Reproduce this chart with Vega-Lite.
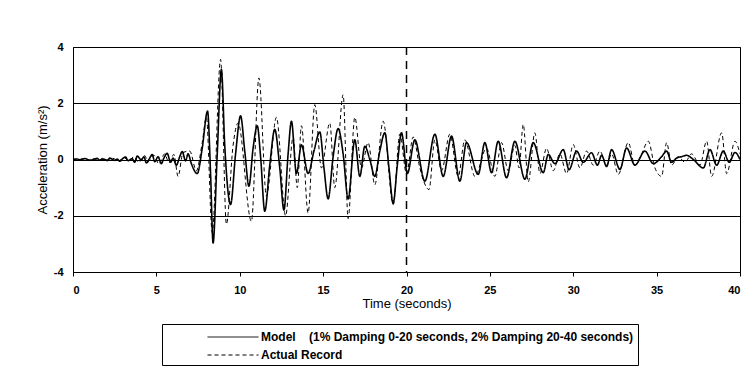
{
  "$schema": "https://vega.github.io/schema/vega-lite/v6.json",
  "autosize": "none",
  "width": 667,
  "height": 225,
  "padding": {"left": 73, "top": 47, "right": 8, "bottom": 102},
  "background": "white",
  "config": {
    "view": {"stroke": "black", "strokeWidth": 1},
    "font": "Liberation Sans",
    "axis": {
      "labelFont": "Liberation Sans",
      "labelFontWeight": "bold",
      "labelFontSize": 11,
      "labelColor": "black",
      "titleFont": "Liberation Sans",
      "titleFontWeight": "normal",
      "titleFontSize": 13,
      "titleColor": "black",
      "domainColor": "black",
      "tickColor": "black",
      "gridColor": "black",
      "gridOpacity": 1
    }
  },
  "datasets": {
    "model": [
      {"t":0,"a":0},{"t":0.25,"a":0.02},{"t":0.4,"a":-0.01},{"t":0.7,"a":0.03},{"t":0.85,"a":0.01},{"t":1.0,"a":-0.03},
      {"t":1.3,"a":0.02},{"t":1.45,"a":0.04},{"t":1.6,"a":-0.02},{"t":1.9,"a":0.01},{"t":2.05,"a":-0.04},{"t":2.2,"a":0.05},
      {"t":2.5,"a":-0.03},{"t":2.65,"a":0.02},{"t":2.8,"a":-0.06},{"t":3.0,"a":0.04},{"t":3.15,"a":0.09},{"t":3.3,"a":-0.04},
      {"t":3.55,"a":0.03},{"t":3.7,"a":-0.1},{"t":3.85,"a":0.12},{"t":4.1,"a":-0.02},{"t":4.25,"a":0.1},{"t":4.4,"a":-0.12},
      {"t":4.6,"a":0.05},{"t":4.75,"a":0.18},{"t":4.9,"a":-0.08},{"t":5.1,"a":0.1},{"t":5.3,"a":-0.15},{"t":5.45,"a":0.05},
      {"t":5.65,"a":0.22},{"t":5.85,"a":-0.1},{"t":6.0,"a":0.05},{"t":6.2,"a":-0.2},{"t":6.4,"a":0.1},{"t":6.55,"a":0.28},
      {"t":6.75,"a":-0.05},{"t":6.9,"a":0.2},{"t":7.1,"a":-0.15},{"t":7.45,"a":-0.5},{"t":7.75,"a":0.4},{"t":8.07,"a":1.72},
      {"t":8.25,"a":-0.5},{"t":8.4,"a":-2.97},
      {"t":8.65,"a":0.2},{"t":8.9,"a":3.2},{"t":9.1,"a":0.5},{"t":9.45,"a":-1.6},{"t":9.75,"a":0.2},{"t":10.05,"a":1.55},
      {"t":10.3,"a":0.3},{"t":10.55,"a":-0.95},{"t":10.8,"a":0.4},{"t":11.05,"a":1.2},{"t":11.25,"a":0.1},{"t":11.5,"a":-1.84},
      {"t":11.8,"a":-0.2},{"t":12.1,"a":1.07},{"t":12.4,"a":-0.3},{"t":12.65,"a":-1.8},{"t":12.9,"a":0.2},{"t":13.1,"a":1.36},
      {"t":13.4,"a":-0.5},{"t":13.7,"a":0.52},{"t":14.1,"a":-0.5},{"t":14.45,"a":0.3},{"t":14.8,"a":0.98},{"t":15.05,"a":-0.3},
      {"t":15.3,"a":-1.4},{"t":15.6,"a":0.1},{"t":15.9,"a":1.1},{"t":16.2,"a":0.2},{"t":16.5,"a":-1.4},{"t":16.9,"a":0.7},
      {"t":17.2,"a":-0.6},{"t":17.5,"a":0.47},{"t":17.8,"a":0},{"t":18.1,"a":-0.6},{"t":18.4,"a":0.3},{"t":18.7,"a":0.95},
      {"t":18.95,"a":-0.3},{"t":19.2,"a":-1.56},{"t":19.45,"a":-0.2},{"t":19.7,"a":0.95},{"t":20.05,"a":-0.5},{"t":20.5,"a":0.7},
      {"t":21.1,"a":-0.77},{"t":21.7,"a":0.9},{"t":22.2,"a":-0.6},{"t":22.7,"a":0.83},{"t":23.2,"a":-0.77},{"t":23.6,"a":0.6},
      {"t":24.3,"a":-0.53},{"t":24.7,"a":0.6},{"t":25.1,"a":-0.47},{"t":25.5,"a":0.65},{"t":26.0,"a":-0.65},{"t":26.5,"a":0.65},
      {"t":27.1,"a":-0.7},{"t":27.6,"a":0.6},{"t":28.2,"a":-0.47},{"t":28.5,"a":0.18},{"t":28.9,"a":-0.15},{"t":29.4,"a":0.35},
      {"t":29.75,"a":-0.36},{"t":30.2,"a":0.3},{"t":30.6,"a":-0.1},{"t":31.1,"a":0.24},{"t":31.45,"a":-0.2},{"t":31.7,"a":0.15},
      {"t":32.0,"a":-0.25},{"t":32.3,"a":0.35},{"t":32.8,"a":-0.35},{"t":33.2,"a":0.41},{"t":33.7,"a":-0.2},{"t":34.3,"a":0.3},
      {"t":34.8,"a":-0.15},{"t":35.3,"a":0.1},{"t":35.6,"a":0.3},{"t":35.9,"a":-0.1},{"t":36.2,"a":0.05},{"t":36.5,"a":0.1},
      {"t":36.8,"a":0.15},{"t":37.2,"a":0},{"t":37.8,"a":-0.3},{"t":38.2,"a":0.35},{"t":38.6,"a":-0.2},{"t":39.0,"a":0.3},
      {"t":39.35,"a":-0.1},{"t":39.7,"a":0.25},{"t":40.0,"a":0}
    ],
    "actual": [
      {"t":0,"a":0},{"t":0.35,"a":-0.02},{"t":0.55,"a":0.02},{"t":0.95,"a":-0.02},{"t":1.15,"a":0.03},{"t":1.55,"a":-0.03},
      {"t":1.75,"a":0.04},{"t":2.15,"a":-0.02},{"t":2.35,"a":0.05},{"t":2.75,"a":-0.05},{"t":3.05,"a":0.07},{"t":3.35,"a":-0.06},
      {"t":3.65,"a":0.1},{"t":3.95,"a":-0.1},{"t":4.3,"a":0.14},{"t":4.5,"a":-0.08},{"t":4.85,"a":0.15},{"t":5.15,"a":-0.16},
      {"t":5.5,"a":0.2},{"t":5.75,"a":-0.12},{"t":6.05,"a":0.18},{"t":6.3,"a":-0.6},{"t":6.6,"a":0.25},{"t":7.0,"a":0.3},
      {"t":7.4,"a":-0.4},{"t":7.75,"a":0.6},{"t":8.0,"a":1.5},{"t":8.35,"a":-2.6},{"t":8.85,"a":3.56},{"t":9.2,"a":-2.3},
      {"t":9.6,"a":0.5},{"t":9.9,"a":1.3},{"t":10.7,"a":-2.2},{"t":11.15,"a":2.9},{"t":11.6,"a":-1.3},{"t":12.2,"a":1.5},
      {"t":12.75,"a":-2.0},{"t":13.2,"a":0.8},{"t":13.45,"a":-1.0},{"t":13.7,"a":1.2},{"t":14.1,"a":-1.9},{"t":14.5,"a":1.95},
      {"t":14.9,"a":-0.3},{"t":15.4,"a":1.3},{"t":15.7,"a":-1.0},{"t":16.2,"a":2.3},{"t":16.5,"a":-2.1},{"t":16.9,"a":1.5},
      {"t":17.3,"a":-0.3},{"t":17.7,"a":0.6},{"t":18.1,"a":-0.9},{"t":18.6,"a":1.36},{"t":19.2,"a":-1.6},{"t":19.6,"a":0.9},
      {"t":20.0,"a":-0.5},{"t":20.4,"a":0.8},{"t":20.8,"a":-0.3},{"t":21.35,"a":-1.07},{"t":21.7,"a":0.7},{"t":22.1,"a":-0.4},
      {"t":22.6,"a":0.9},{"t":23.1,"a":-0.6},{"t":23.5,"a":0.7},{"t":24.1,"a":-0.6},{"t":24.8,"a":0.4},{"t":25.3,"a":-0.6},
      {"t":25.7,"a":0.6},{"t":26.1,"a":-0.4},{"t":26.5,"a":0.5},{"t":26.75,"a":-0.3},{"t":27.0,"a":1.25},{"t":27.3,"a":-0.8},
      {"t":27.7,"a":0.95},{"t":28.0,"a":-0.5},{"t":28.4,"a":0.4},{"t":28.8,"a":-0.4},{"t":29.2,"a":0.2},{"t":29.6,"a":-0.5},
      {"t":30.0,"a":0.53},{"t":30.4,"a":-0.3},{"t":30.8,"a":0.3},{"t":31.2,"a":-0.2},{"t":31.6,"a":0.3},{"t":32.0,"a":-0.2},
      {"t":32.3,"a":0.2},{"t":32.7,"a":-0.53},{"t":33.3,"a":0.6},{"t":33.7,"a":-0.2},{"t":34.1,"a":0.2},{"t":34.5,"a":0.65},
      {"t":34.9,"a":-0.3},{"t":35.3,"a":-0.6},{"t":35.6,"a":0.6},{"t":35.9,"a":-0.2},{"t":36.3,"a":0.1},{"t":36.7,"a":-0.1},
      {"t":37.1,"a":0.2},{"t":37.6,"a":-0.2},{"t":38.0,"a":0.65},{"t":38.3,"a":-0.6},{"t":38.9,"a":0.95},{"t":39.2,"a":-0.5},
      {"t":39.7,"a":0.65},{"t":40.0,"a":0.2}
    ],
    "marker": [{"t": 20}]
  },
  "encoding": {
    "x": {
      "field": "t", "type": "quantitative",
      "scale": {"domain": [0, 40], "nice": false, "zero": false},
      "axis": {"values": [0,5,10,15,20,25,30,35,40], "title": "Time (seconds)", "grid": false, "tickSize": 4, "labelPadding": 8, "titlePadding": 2, "domain": true}
    },
    "y": {
      "field": "a", "type": "quantitative",
      "scale": {"domain": [-4, 4], "nice": false},
      "axis": {"values": [-4,-2,0,2,4], "labelExpr": "replace(datum.label, '\u2212', '-')", "title": "Acceleration (m/s²)", "grid": true, "tickSize": 0, "labelPadding": 10, "titlePadding": 4, "domain": true}
    }
  },
  "layer": [
    {
      "data": {"name": "marker"},
      "mark": {"type": "rule", "color": "black", "strokeWidth": 1.5, "strokeDash": [8, 6]},
      "encoding": {"y": {"value": 0}, "y2": {"value": 225}}
    },
    {
      "data": {"name": "actual"},
      "mark": {"type": "line", "color": "black", "strokeWidth": 1, "interpolate": "monotone"},
      "encoding": {
        "strokeDash": {
          "datum": "Actual Record",
          "scale": {"domain": ["Model\u00a0\u00a0\u00a0\u00a0(1% Damping 0-20 seconds, 2% Damping 20-40 seconds)", "Actual Record"], "range": [[1, 0], [4, 3]]},
          "legend": {
            "title": null,
            "orient": "none",
            "legendX": 89,
            "legendY": 277,
            "direction": "vertical",
            "strokeColor": "black",
            "fillColor": "white",
            "padding": 4,
            "symbolType": "M-3,0H3",
            "symbolSize": 289,
            "symbolStrokeWidth": 1,
            "symbolStrokeColor": "black",
            "symbolOffset": 58,
            "labelOffset": 19,
            "labelFont": "Liberation Sans",
            "labelFontWeight": "bold",
            "labelFontSize": 12,
            "labelColor": "black",
            "labelLimit": 600,
            "rowPadding": 3
          }
        }
      }
    },
    {
      "data": {"name": "model"},
      "mark": {"type": "line", "color": "black", "strokeWidth": 1.6, "interpolate": "monotone"},
      "encoding": {
        "strokeDash": {"datum": "Model\u00a0\u00a0\u00a0\u00a0(1% Damping 0-20 seconds, 2% Damping 20-40 seconds)"}
      }
    }
  ]
}
